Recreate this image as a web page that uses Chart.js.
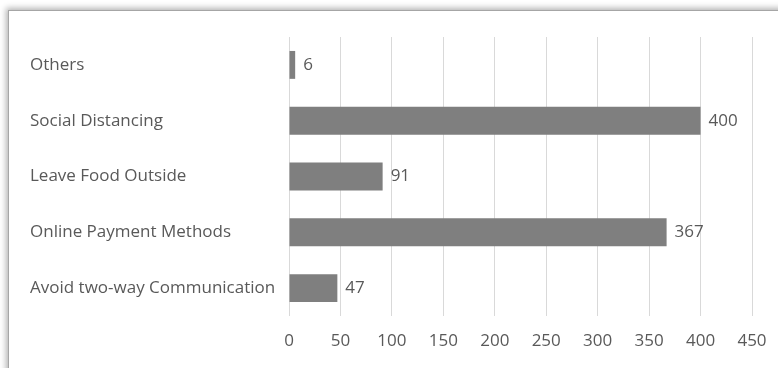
<!DOCTYPE html>
<html>
<head>
<meta charset="utf-8">
<script src="https://cdn.jsdelivr.net/npm/chart.js@4/dist/chart.umd.min.js"></script>
<style>
    html, body { margin: 0; padding: 0; background: #ffffff; overflow: hidden; }
    #frame {
        position: absolute; left: 8px; top: 10px; width: 820px; height: 420px;
        background: #ffffff; border: 1px solid #a6a6a6;
        box-shadow: 0 0 6px 2px rgba(0, 0, 0, 0.30);
    }
    #chartId { position: absolute; left: 0; top: 0; }
</style>
</head>
<body>
<div id="frame"></div>
<canvas id="chartId" width="778" height="368"></canvas>
<script>
// categories listed top to bottom
const categories = ["Others", "Social Distancing", "Leave Food Outside", "Online Payment Methods", "Avoid two-way Communication"];
const counts = [6, 400, 91, 367, 47];
const xTicks = [0, 50, 100, 150, 200, 250, 300, 350, 400, 450];

const textColor = "#595959";
const fontFamily = "'Open Sans', 'Noto Sans', sans-serif";
const fontSize = 17;

// writes each bar's value just past its end
const valueLabels = {
    id: "valueLabels",
    afterDatasetsDraw(chart) {
        let ctx = chart.ctx;
        let meta = chart.getDatasetMeta(0);
        ctx.save();
        ctx.font = fontSize + "px " + fontFamily;
        ctx.fillStyle = textColor;
        ctx.textAlign = "left";
        ctx.textBaseline = "middle";
        meta.data.forEach(function (bar, i) {
            ctx.fillText(String(counts[i]), bar.x + 8, bar.y);
        });
        ctx.restore();
    }
};

var chrt = document.getElementById("chartId").getContext("2d");
var chartId = new Chart(chrt, {
    type: 'bar',
    data: {
        labels: categories,
        datasets: [{
            data: counts,
            backgroundColor: "#7f7f7f",
            borderWidth: 0,
            categoryPercentage: 1,
            barPercentage: 0.5,
        }],
    },
    options: {
        indexAxis: 'y',
        responsive: false,
        animation: false,
        layout: { padding: { left: 30, top: 37, right: 26, bottom: 0 } },
        plugins: {
            legend: { display: false },
            tooltip: { enabled: false },
        },
        scales: {
            x: {
                min: 0,
                max: 450,
                afterBuildTicks: function (scale) {
                    scale.ticks = xTicks.map(v => ({ value: v }));
                },
                afterFit: function (scale) {
                    scale.height = 52;
                    scale.paddingLeft = 0;
                    scale.paddingRight = 0;
                },
                grid: { color: "#d9d9d9", lineWidth: 1, drawTicks: false },
                border: { display: false },
                ticks: { color: textColor, font: { family: fontFamily, size: fontSize }, padding: 15 },
            },
            y: {
                afterFit: function (scale) { scale.width = 259; },
                grid: { display: false, drawTicks: false },
                border: { display: false },
                ticks: { color: textColor, font: { family: fontFamily, size: fontSize }, crossAlign: 'far', padding: 12 },
            },
        },
    },
    plugins: [valueLabels],
});
</script>
</body>
</html>
